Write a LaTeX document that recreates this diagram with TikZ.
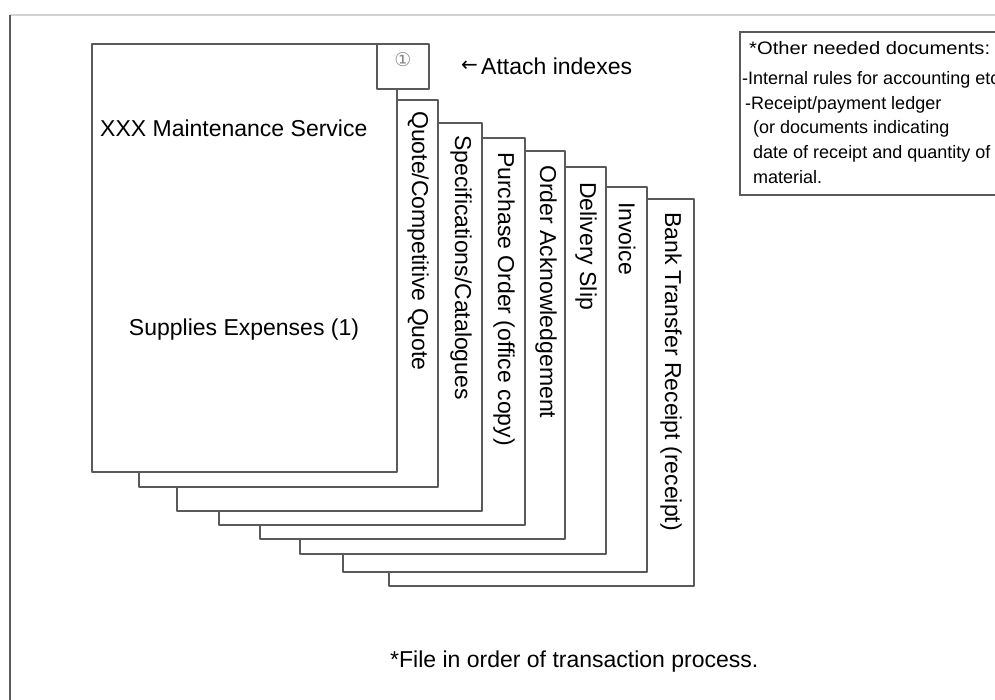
\documentclass[tikz,border=0pt]{standalone}
\usepackage{fontspec}
\setmainfont{Liberation Sans}
\newfontfamily\djv{DejaVu Sans}
\definecolor{ln}{HTML}{5A5A5A}
\definecolor{frametop}{HTML}{D2D2D2}
\definecolor{idx}{HTML}{8A8A8A}
\begin{document}
\begin{tikzpicture}[x=1pt,y=-1pt,
  pg/.style={draw=ln, fill=white, line width=1.7pt, line join=round},
  big/.style={font=\fontsize{23}{27}\selectfont, inner sep=0pt},
  tabtext/.style={big, rotate=-90, anchor=west},
  small/.style={font=\fontsize{18}{21}\selectfont, inner sep=0pt, anchor=base west}]
\useasboundingbox (0,0) rectangle (995,700);
% outer frame
\draw[frametop, line width=2pt] (10,15) -- (995,15);
\draw[ln, line width=1.8pt] (10,15) -- (10,700);
% stacked pages, back to front
\foreach \l/\t/\r/\b in {389/199/694/586, 343/187/647/572, 300/167/606/554,
  260/151/565/539, 219/138/525/525, 177/123/482/511, 139/100/438/487, 92/44/397/472}
  \draw[pg] (\l,\t) rectangle (\r,\b);
% index box
\draw[pg] (377,44) rectangle (429,89);
\node[inner sep=0pt, text=idx, font=\djv\fontsize{19}{21}\selectfont] (idx1) at (403,60) {①};
% tab labels
\node[tabtext] (t1) at (418,111) {Quote/Competitive Quote};
\node[tabtext] (t2) at (461,135) {Specifications/Catalogues};
\node[tabtext] (t3) at (504,152) {Purchase Order (office copy)};
\node[tabtext] (t4) at (546,165) {Order Acknowledgement};
\node[tabtext] (t5) at (586,182) {Delivery Slip};
\node[tabtext] (t6) at (627,202) {Invoice};
\node[tabtext] (t7) at (671,212) {Bank Transfer Receipt (receipt)};
% main page text
\node[big, anchor=base west] (svc) at (100,137) {XXX Maintenance Service};
\node[big, anchor=base] (sup) at (244,335) {Supplies Expenses (1)};
% attach indexes
\node[inner sep=0pt, anchor=base west, font=\djv\fontsize{20}{22}\selectfont] (arr) at (461,72) {←};
\node[big, anchor=base west] (att) at (481,75) {Attach indexes};
% other documents box
\draw[ln, line width=1.7pt, fill=white] (740,32) rectangle (1000,195);
\node[small, xscale=1.12] (o1) at (749,55) {*Other needed documents:};
\node[small] (o2) at (742,85) {-Internal rules for accounting etc};
\node[small] (o3) at (745,110) {-Receipt/payment ledger};
\node[small] (o4) at (753,134) {(or documents indicating};
\node[small] (o5) at (753,159) {date of receipt and quantity of};
\node[small] (o6) at (753,184) {material.};
% footnote
\node[big, anchor=base west] (note) at (390,667) {*File in order of transaction process.};
\end{tikzpicture}
\end{document}
